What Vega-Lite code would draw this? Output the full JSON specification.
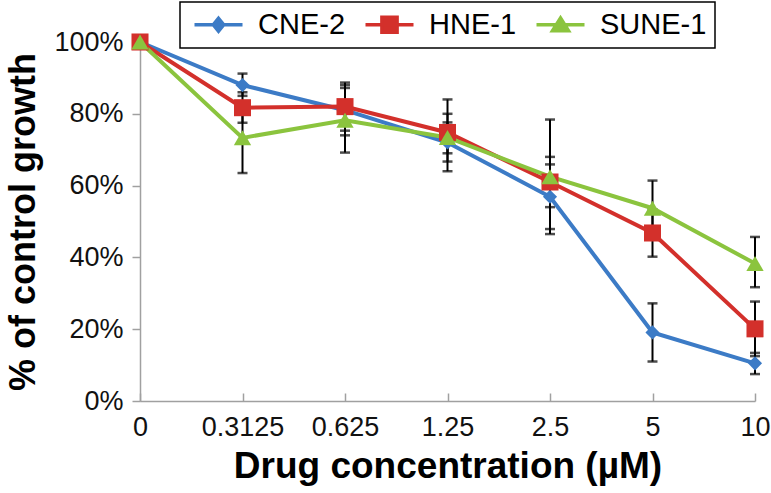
{
  "$schema": "https://vega.github.io/schema/vega-lite/v6.json",
  "width": 615,
  "height": 359,
  "autosize": {"type": "none"},
  "padding": {"left": 140, "top": 42, "right": 16, "bottom": 92},
  "background": "white",
  "config": {"view": {"stroke": null}, "font": "Liberation Sans"},
  "data": {"values": [
    {"conc": "0", "series": "CNE-2", "mean": 1.0, "lo": null, "hi": null},
    {"conc": "0.3125", "series": "CNE-2", "mean": 0.88, "lo": 0.85, "hi": 0.912},
    {"conc": "0.625", "series": "CNE-2", "mean": 0.81, "lo": 0.74, "hi": 0.88},
    {"conc": "1.25", "series": "CNE-2", "mean": 0.72, "lo": 0.64, "hi": 0.80},
    {"conc": "2.5", "series": "CNE-2", "mean": 0.569, "lo": 0.479, "hi": 0.659},
    {"conc": "5", "series": "CNE-2", "mean": 0.191, "lo": 0.11, "hi": 0.272},
    {"conc": "10", "series": "CNE-2", "mean": 0.105, "lo": 0.075, "hi": 0.134},
    {"conc": "0", "series": "HNE-1", "mean": 1.0, "lo": null, "hi": null},
    {"conc": "0.3125", "series": "HNE-1", "mean": 0.817, "lo": 0.775, "hi": 0.86},
    {"conc": "0.625", "series": "HNE-1", "mean": 0.82, "lo": 0.753, "hi": 0.887},
    {"conc": "1.25", "series": "HNE-1", "mean": 0.748, "lo": 0.667, "hi": 0.84},
    {"conc": "2.5", "series": "HNE-1", "mean": 0.61, "lo": 0.54, "hi": 0.68},
    {"conc": "5", "series": "HNE-1", "mean": 0.468, "lo": 0.402, "hi": 0.534},
    {"conc": "10", "series": "HNE-1", "mean": 0.201, "lo": 0.125, "hi": 0.277},
    {"conc": "0", "series": "SUNE-1", "mean": 1.0, "lo": null, "hi": null},
    {"conc": "0.3125", "series": "SUNE-1", "mean": 0.733, "lo": 0.635, "hi": 0.83},
    {"conc": "0.625", "series": "SUNE-1", "mean": 0.782, "lo": 0.692, "hi": 0.872},
    {"conc": "1.25", "series": "SUNE-1", "mean": 0.734, "lo": 0.69, "hi": 0.776},
    {"conc": "2.5", "series": "SUNE-1", "mean": 0.625, "lo": 0.465, "hi": 0.784},
    {"conc": "5", "series": "SUNE-1", "mean": 0.537, "lo": 0.46, "hi": 0.614},
    {"conc": "10", "series": "SUNE-1", "mean": 0.383, "lo": 0.317, "hi": 0.457}
  ]},
  "encoding": {
    "x": {
      "field": "conc", "type": "ordinal",
      "sort": ["0", "0.3125", "0.625", "1.25", "2.5", "5", "10"],
      "scale": {"type": "point", "padding": 0},
      "axis": {
        "title": "Drug concentration (µM)",
        "titleFont": "Liberation Sans", "titleFontSize": 37, "titleFontWeight": "bold", "titleColor": "#000000",
        "titlePadding": 8,
        "labelFont": "Liberation Sans", "labelFontSize": 27, "labelColor": "#111111", "labelAngle": 0,
        "labelPadding": 21,
        "domainColor": "#a0a0a0", "domainWidth": 1.5,
        "tickColor": "#a0a0a0", "tickWidth": 1.5, "tickSize": -8,
        "grid": false
      }
    }
  },
  "layer": [
    {
      "mark": {"type": "rule", "color": "#000000", "strokeWidth": 2},
      "encoding": {
        "y": {
          "field": "lo", "type": "quantitative",
          "scale": {"domain": [0, 1], "nice": false, "zero": true},
          "axis": {
            "title": "% of control growth",
            "titleFont": "Liberation Sans", "titleFontSize": 36, "titleFontWeight": "bold", "titleColor": "#000000",
            "titlePadding": 11,
            "values": [0, 0.2, 0.4, 0.6, 0.8, 1.0],
            "format": ".0%",
            "labelFont": "Liberation Sans", "labelFontSize": 27, "labelColor": "#111111",
            "labelPadding": 9,
            "domainColor": "#a0a0a0", "domainWidth": 1.5,
            "tickColor": "#a0a0a0", "tickWidth": 1.5, "tickSize": 8,
            "grid": false
          }
        },
        "y2": {"field": "hi"}
      }
    },
    {
      "mark": {"type": "tick", "color": "#000000", "thickness": 2.5, "size": 10},
      "encoding": {"y": {"field": "hi", "type": "quantitative", "axis": {"title": "% of control growth"}}}
    },
    {
      "mark": {"type": "tick", "color": "#000000", "thickness": 2.5, "size": 10},
      "encoding": {"y": {"field": "lo", "type": "quantitative", "axis": {"title": "% of control growth"}}}
    },
    {
      "mark": {"type": "line", "strokeWidth": 4},
      "encoding": {
        "y": {"field": "mean", "type": "quantitative", "axis": {"title": "% of control growth"}},
        "color": {
          "field": "series", "type": "nominal",
          "scale": {"domain": ["CNE-2", "HNE-1", "SUNE-1"], "range": ["#3C7BC6", "#D3302B", "#8BC43E"]},
          "legend": {
            "orient": "none", "legendX": 40, "legendY": -40,
            "direction": "horizontal",
            "title": null,
            "labelFont": "Liberation Sans", "labelFontSize": 29, "labelColor": "#000000",
            "labelOffset": 41,
            "symbolSize": 256,
            "columnPadding": 12,
            "padding": 8,
            "strokeColor": "#000000",
            "encode": {
              "legend": {"update": {"strokeWidth": {"value": 1.5}}},
              "symbols": {"update": {
                "shape": {"signal": "datum.value === 'CNE-2' ? 'M-1,0H5M2,-0.8L2.65,0L2,0.8L1.35,0Z' : datum.value === 'HNE-1' ? 'M-1,0H5M1.05,-0.95H2.95V0.95H1.05Z' : 'M-1,0H5M2,-0.85L3,0.75L1,0.75Z'"},
                "fill": {"scale": "color", "field": "value"},
                "stroke": {"scale": "color", "field": "value"},
                "strokeWidth": {"value": 3.5},
                "opacity": {"value": 1}
              }}
            }
          }
        }
      }
    },
    {
      "transform": [{"filter": "datum.series === 'CNE-2'"}],
      "mark": {"type": "point", "shape": "diamond", "filled": true, "size": 200, "color": "#3C7BC6", "opacity": 1},
      "encoding": {"y": {"field": "mean", "type": "quantitative", "axis": {"title": "% of control growth"}}}
    },
    {
      "transform": [{"filter": "datum.series === 'HNE-1'"}],
      "mark": {"type": "point", "shape": "square", "filled": true, "size": 290, "color": "#D3302B", "opacity": 1},
      "encoding": {"y": {"field": "mean", "type": "quantitative", "axis": {"title": "% of control growth"}}}
    },
    {
      "transform": [{"filter": "datum.series === 'SUNE-1'"}],
      "mark": {"type": "point", "shape": "triangle-up", "filled": true, "size": 300, "color": "#8BC43E", "opacity": 1},
      "encoding": {"y": {"field": "mean", "type": "quantitative", "axis": {"title": "% of control growth"}}}
    }
  ]
}
